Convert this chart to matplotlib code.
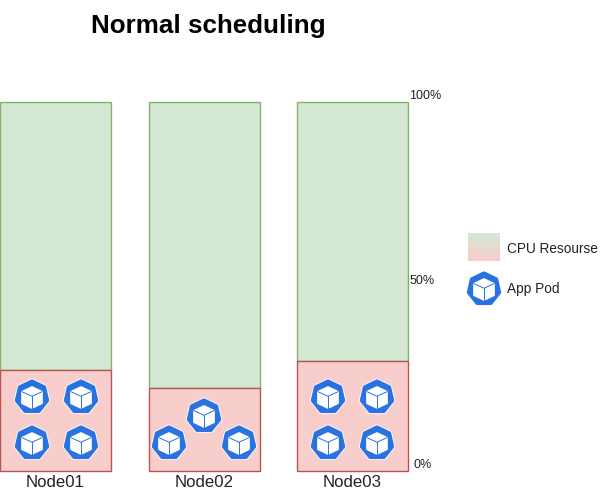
import numpy as np
import matplotlib
matplotlib.use('Agg')
import matplotlib.pyplot as plt
from matplotlib.patches import Polygon
from matplotlib.colors import LinearSegmentedColormap

plt.rcParams['font.family'] = ['Liberation Sans', 'DejaVu Sans']

# values
nodes = ['Node01', 'Node02', 'Node03']
used_cpu = [27.4, 22.5, 29.8]
total_cpu = [100, 100, 100]
pct_ticks = [100, 50, 0]
pct_labels = ['100%', '50%', '0%']
pct_dx = [1, 1, 5]

# pod centres in pixels, from the top left of the image
pods_x = [32, 81, 32, 81, 169, 204, 239, 328, 377, 328, 377]
pods_y = [397, 397, 443, 443, 443, 416, 443, 397, 397, 443, 443]

GREEN, GREEN_E = '#d5e8d4', '#82b366'
RED, RED_E = '#f8cecc', '#b85450'
BLUE = '#2a72e0'
W, H = 600, 493


def draw_pod(a, cx, cy, r=15.5):
    ang = np.pi/2 + np.arange(7)*2*np.pi/7
    pts = np.c_[cx + r*np.cos(ang), cy - r*np.sin(ang)]
    a.add_patch(Polygon(pts, closed=True, fc='white', ec='white', lw=4.2, joinstyle='round', zorder=3))
    a.add_patch(Polygon(pts, closed=True, fc=BLUE, ec=BLUE, lw=3.0, joinstyle='round', zorder=4))
    # cube
    s = r*0.68
    cy = cy + 0.5
    top = (cx, cy-s)
    tr = (cx+s*0.95, cy-s*0.55)
    br = (cx+s*0.95, cy+s*0.55)
    bot = (cx, cy+s)
    bl = (cx-s*0.95, cy+s*0.55)
    tl = (cx-s*0.95, cy-s*0.55)
    mid = (cx, cy-s*0.12)
    a.add_patch(Polygon([top, tr, br, bot, bl, tl], closed=True, fc='white', ec='white', lw=1.2,
                        joinstyle='round', zorder=5))
    a.plot([tl[0], mid[0], tr[0]], [tl[1], mid[1], tr[1]], color=BLUE, lw=0.7, zorder=6)
    a.plot([mid[0], bot[0]], [mid[1], bot[1]], color=BLUE, lw=0.7, zorder=6)


fig = plt.figure(figsize=(W/100, H/100), dpi=100)
ax = fig.add_axes([0, 1-471/H, 408.5/W, 369/H])

x = np.arange(len(nodes))
used = np.array(used_cpu)
free = np.array(total_cpu) - used
bw = 111/148.5
ax.bar(x, free, bottom=used, width=bw, color=GREEN, edgecolor=GREEN_E, linewidth=1, clip_on=False)
ax.bar(x, used, width=bw, color=RED, edgecolor=RED_E, linewidth=1, clip_on=False)
ax.set_xlim(-55.5/148.5, 2+56/148.5)
ax.set_ylim(0, 100)
ax.set_xticks(x)
ax.set_xticklabels(nodes, fontsize=12.1, color='#222222')
ax.set_yticks([])
ax.tick_params(axis='x', length=0, pad=3)
for s in ax.spines.values():
    s.set_visible(False)

for p, lab, dx in zip(pct_ticks, pct_labels, pct_dx):
    ax.annotate(lab, xy=(1, p), xycoords=ax.get_yaxis_transform(), xytext=(dx, 0),
                textcoords='offset pixels', fontsize=9, color='#222222', va='bottom', ha='left',
                annotation_clip=False)

# pods and legend sit on top, in pixel coordinates
over = fig.add_axes([0, 0, 1, 1])
over.patch.set_alpha(0)
over.axis('off')

cmap = LinearSegmentedColormap.from_list('cpu', [GREEN, RED])
over.imshow(np.linspace(0, 1, 64).reshape(-1, 1), cmap=cmap, aspect='auto', extent=(468, 500, 261, 233), zorder=2)
over.set_xlim(0, W)
over.set_ylim(H, 0)

for px, py in zip(pods_x, pods_y):
    draw_pod(over, px, py)
draw_pod(over, 484, 289)

over.text(507, 249, 'CPU Resourse', fontsize=9.8, color='#222222', va='center', ha='left')
over.text(507, 289, 'App Pod', fontsize=9.8, color='#222222', va='center', ha='left')
over.text(208.5, 26, 'Normal scheduling', fontsize=18.7, fontweight='bold', color='black', va='center', ha='center')

fig.savefig('out.png', dpi=100)
